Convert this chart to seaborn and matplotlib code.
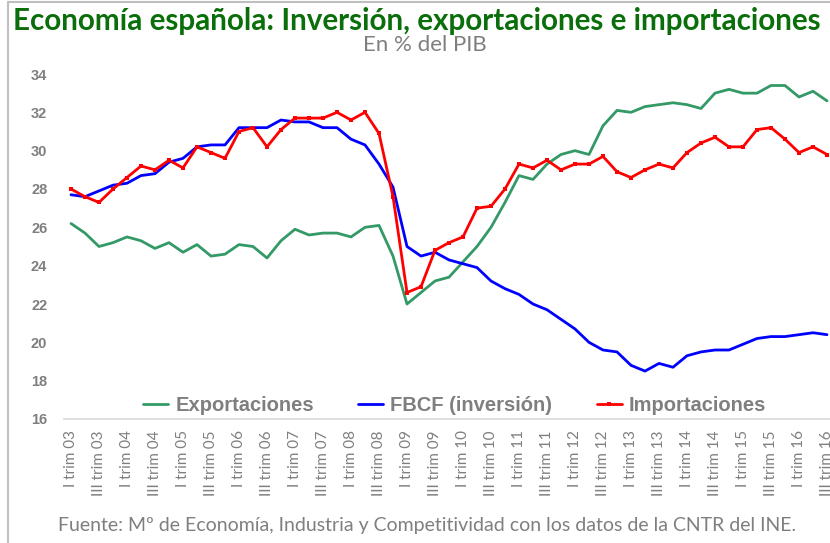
import numpy as np
import pandas as pd
import seaborn as sns
from matplotlib import pyplot as plt
from matplotlib.lines import Line2D

# Datos trimestrales (% del PIB), I trim 03 - III trim 16
anios = list(range(3, 17))
romanos = ['I', 'II', 'III', 'IV']

exportaciones = [26.2, 25.7, 25.0, 25.2, 25.5, 25.3, 24.9, 25.2, 24.7, 25.1, 24.5, 24.6,
                 25.1, 25.0, 24.4, 25.3, 25.9, 25.6, 25.7, 25.7, 25.5, 26.0, 26.1, 24.5,
                 22.0, 22.6, 23.2, 23.4, 24.2, 25.0, 26.0, 27.3, 28.7, 28.5, 29.3, 29.8,
                 30.0, 29.8, 31.3, 32.1, 32.0, 32.3, 32.4, 32.5, 32.4, 32.2, 33.0, 33.2,
                 33.0, 33.0, 33.4, 33.4, 32.8, 33.1, 32.6]
fbcf = [27.7, 27.6, 27.9, 28.2, 28.3, 28.7, 28.8, 29.4, 29.6, 30.2, 30.3, 30.3,
        31.2, 31.2, 31.2, 31.6, 31.5, 31.5, 31.2, 31.2, 30.6, 30.3, 29.3, 28.1,
        25.0, 24.5, 24.7, 24.3, 24.1, 23.9, 23.2, 22.8, 22.5, 22.0, 21.7, 21.2,
        20.7, 20.0, 19.6, 19.5, 18.8, 18.5, 18.9, 18.7, 19.3, 19.5, 19.6, 19.6,
        19.9, 20.2, 20.3, 20.3, 20.4, 20.5, 20.4]
importaciones = [28.0, 27.6, 27.3, 28.0, 28.6, 29.2, 29.0, 29.5, 29.1, 30.2, 29.9, 29.6,
                 31.0, 31.2, 30.2, 31.1, 31.7, 31.7, 31.7, 32.0, 31.6, 32.0, 30.9, 27.6,
                 22.6, 22.9, 24.8, 25.2, 25.5, 27.0, 27.1, 28.0, 29.3, 29.1, 29.5, 29.0,
                 29.3, 29.3, 29.7, 28.9, 28.6, 29.0, 29.3, 29.1, 29.9, 30.4, 30.7, 30.2,
                 30.2, 31.1, 31.2, 30.6, 29.9, 30.2, 29.8]

trimestres = [f'{r} trim {a:02d}' for a in anios for r in romanos][:len(fbcf)]

df = pd.DataFrame({'pos': np.arange(len(trimestres)), 'trimestre': trimestres,
                   'Exportaciones': exportaciones, 'FBCF (inversión)': fbcf,
                   'Importaciones': importaciones})

gris = '#7f7f7f'
verde = '#339966'

sns.set_style('white')
fig = plt.figure(figsize=(8.3, 5.43), dpi=100)
ax = fig.add_axes([64 / 830, 124 / 543, 766 / 830, 345 / 543])

sns.lineplot(data=df, x='pos', y='Exportaciones', color=verde, linewidth=2, ax=ax)
sns.lineplot(data=df, x='pos', y='FBCF (inversión)', color='#0000ff', linewidth=2, ax=ax)
sns.lineplot(data=df, x='pos', y='Importaciones', color='#ff0000', linewidth=2,
             marker='s', markersize=2.5, markeredgewidth=0, ax=ax)

ax.set_xlim(-0.5, -0.5 + 766 / 14)
ax.set_ylim(16, 34)
ax.set_xticks(df['pos'][::2])
ax.set_xticklabels(df['trimestre'][::2], rotation=90, family='Lato', fontsize=11,
                   color=gris, va='top')
ax.set_yticks(range(16, 35, 2))
ax.set_yticklabels([str(v) for v in range(16, 35, 2)], family='Liberation Sans',
                   fontweight='bold', fontsize=10.5, color=gris)
ax.tick_params(axis='both', length=0)
ax.tick_params(axis='y', pad=12)
ax.tick_params(axis='x', pad=8)
ax.set_xlabel('')
ax.set_ylabel('')
for s in ['left', 'right', 'top']:
    ax.spines[s].set_visible(False)
ax.spines['bottom'].set_color('#d9d9d9')
ax.spines['bottom'].set_linewidth(1.2)

handles = [Line2D([], [], color=verde, linewidth=2),
           Line2D([], [], color='#0000ff', linewidth=2),
           Line2D([], [], color='#ff0000', linewidth=2, marker='s', markersize=2.5,
                  markeredgewidth=0)]
ax.legend(handles, ['Exportaciones', 'FBCF (inversión)', 'Importaciones'], ncol=3,
          loc='center', bbox_to_anchor=(0.51, 0.04), frameon=False,
          prop={'family': 'Liberation Sans', 'weight': 'bold', 'size': 14.5},
          labelcolor=gris, handlelength=1.25, handletextpad=0.35, columnspacing=2.2)

fig.text(417 / 830, 1 - 21 / 543, 'Economía española: Inversión, exportaciones e importaciones',
         ha='center', va='center', family='Lato', fontweight='bold', fontsize=21.3,
         color='#0a6e0a')
fig.text(425 / 830, 1 - 45 / 543, 'En % del PIB', ha='center', va='center',
         family='Lato', fontsize=16, color=gris)
fig.text(427 / 830, 1 - 525 / 543,
         'Fuente: Mº de Economía, Industria y Competitividad con los datos de la CNTR del INE.',
         ha='center', va='center', family='Lato', fontsize=14, color=gris)

# marco del gráfico
fig.add_artist(Line2D([8 / 830, 8 / 830], [0, 1 - 2 / 543], transform=fig.transFigure,
                      color='#bfbfbf', linewidth=1.5))
fig.add_artist(Line2D([8 / 830, 1], [1 - 2 / 543, 1 - 2 / 543], transform=fig.transFigure,
                      color='#bfbfbf', linewidth=1.5))

fig.savefig('out.png', dpi=100)
